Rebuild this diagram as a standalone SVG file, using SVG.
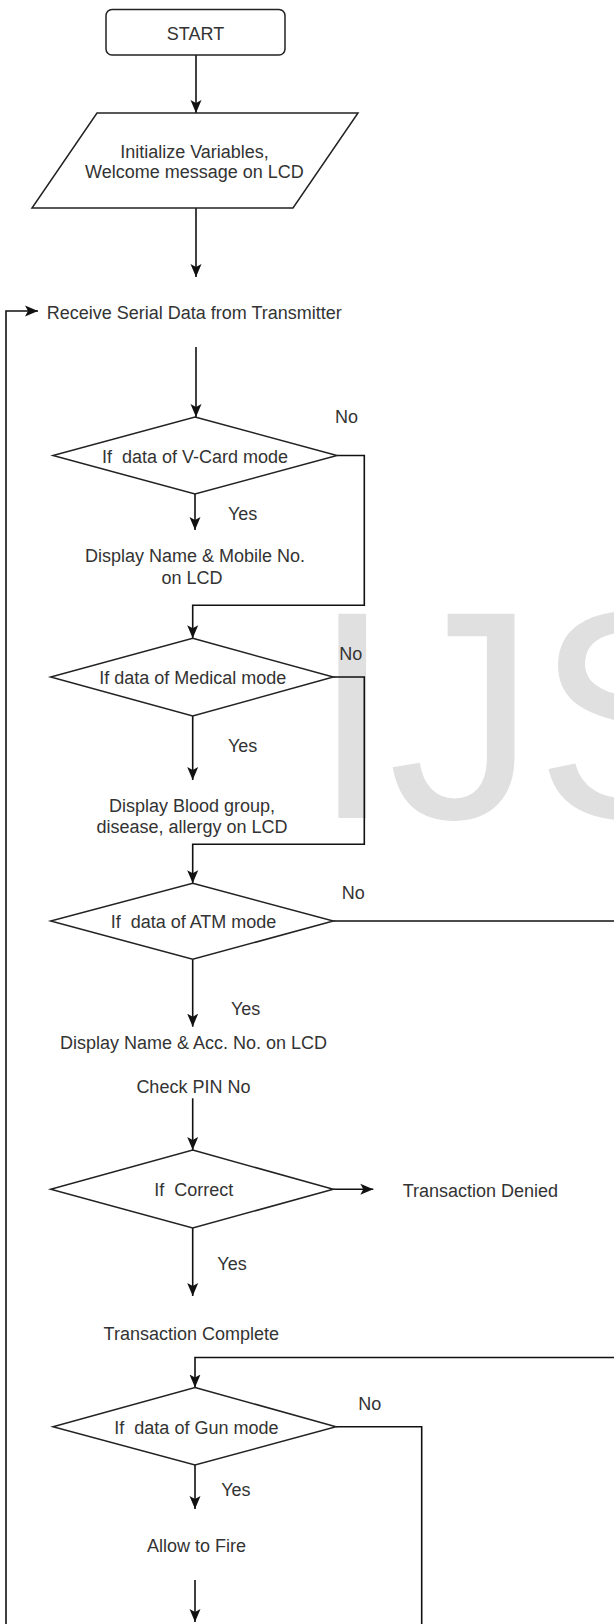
<svg xmlns="http://www.w3.org/2000/svg" width="614" height="1624" viewBox="0 0 614 1624">
<style>
text{font-family:"Liberation Sans",Arial,sans-serif;font-size:18px;fill:#333;white-space:pre}
.c{text-anchor:middle}
.shape{fill:#fff;stroke:#222;stroke-width:1.5}
.wire{fill:none;stroke:#111;stroke-width:1.6}
.arr{fill:none;stroke:#111;stroke-width:1.6;marker-end:url(#ah)}
.wm{font-size:297px;fill:#e0e0e0}
</style>
<defs>
<marker id="ah" markerUnits="userSpaceOnUse" markerWidth="14" markerHeight="12" refX="13" refY="6" orient="auto">
<path d="M0,0.5 L13,6 L0,11.5 L3,6 Z" fill="#111"/>
</marker>
</defs>
<rect width="614" height="1624" fill="#fff"/>
<text class="wm" x="311 388 535" y="818">IJS</text>

<g id="connectors">
<path class="arr" d="M196,55 V113"/>
<path class="arr" d="M196,208 V277"/>
<path class="arr" d="M6,1624 V311 H38"/>
<path class="arr" d="M196,347 V417"/>
<path class="arr" d="M195,494 V530"/>
<path class="arr" d="M337,455.5 H364.3 V605.3 H192.7 V638.3"/>
<path class="arr" d="M192.7,716 V780"/>
<path class="arr" d="M333.3,677 H364.3 V844.3 H192.7 V883.3"/>
<path class="wire" d="M333.3,921 H614"/>
<path class="arr" d="M192.7,959.3 V1026.7"/>
<path class="arr" d="M192.7,1098.3 V1150"/>
<path class="arr" d="M333.3,1189.3 H373.3"/>
<path class="arr" d="M192.7,1228 V1296"/>
<path class="arr" d="M614,1357.5 H195 V1387.5"/>
<path class="wire" d="M336,1426.7 H421.7 V1624"/>
<path class="arr" d="M195,1465 V1509"/>
<path class="arr" d="M195,1580 V1622"/>
</g>

<g id="start">
<rect class="shape" x="106" y="9.5" width="179" height="45.5" rx="6"/>
<text class="c" x="195.5" y="39.5">START</text>
</g>
<g id="init">
<polygon class="shape" points="97,113 358,113 293,208 32,208"/>
<text class="c" x="194.5" y="158.3">Initialize Variables,</text>
<text class="c" x="194.5" y="178.3">Welcome message on LCD</text>
</g>
<g id="receive">
<text x="46.7" y="318.5">Receive Serial Data from Transmitter</text>
</g>
<g id="vcard">
<polygon class="shape" points="195,417 337,455.5 195,494 53,455.5"/>
<text class="c" x="195" y="462.7">If  data of V-Card mode</text>
<text x="335" y="423">No</text>
<text x="228" y="520">Yes</text>
</g>
<g id="vcard-display">
<text class="c" x="195" y="561.5">Display Name &amp; Mobile No.</text>
<text class="c" x="192" y="584">on LCD</text>
</g>
<g id="medical">
<polygon class="shape" points="192.7,638.3 333.3,677 192.7,716 50.7,677"/>
<text class="c" x="192.7" y="684">If data of Medical mode</text>
<text x="339.3" y="659.5">No</text>
<text x="228" y="752">Yes</text>
</g>
<g id="medical-display">
<text class="c" x="192" y="811.7">Display Blood group,</text>
<text class="c" x="192" y="833.3">disease, allergy on LCD</text>
</g>
<g id="atm">
<polygon class="shape" points="192.7,883.3 333.3,921 192.7,959.3 50.7,921"/>
<text class="c" x="193.5" y="927.5">If  data of ATM mode</text>
<text x="341.7" y="899">No</text>
<text x="231" y="1015">Yes</text>
</g>
<g id="atm-display">
<text class="c" x="193.5" y="1049">Display Name &amp; Acc. No. on LCD</text>
</g>
<g id="check-pin">
<text class="c" x="193.4" y="1093">Check PIN No</text>
</g>
<g id="correct">
<polygon class="shape" points="192.7,1150 333.3,1189.3 192.7,1228 50.7,1189.3"/>
<text class="c" x="193.7" y="1195.7">If  Correct</text>
<text x="217.3" y="1270">Yes</text>
</g>
<g id="denied">
<text x="402.7" y="1196.7">Transaction Denied</text>
</g>
<g id="complete">
<text class="c" x="191.3" y="1340">Transaction Complete</text>
</g>
<g id="gun">
<polygon class="shape" points="195,1387.5 336,1426.7 195,1465 53,1426.7"/>
<text class="c" x="196.4" y="1434">If  data of Gun mode</text>
<text x="358.3" y="1410">No</text>
<text x="221.2" y="1496">Yes</text>
</g>
<g id="fire">
<text class="c" x="196.4" y="1552">Allow to Fire</text>
</g>
</svg>
